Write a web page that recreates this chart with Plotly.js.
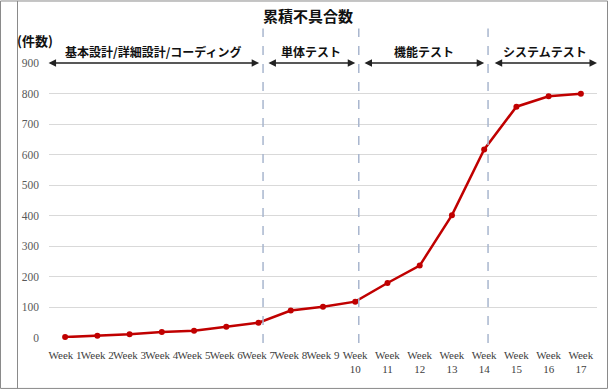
<!DOCTYPE html>
<html>
<head>
<meta charset="utf-8">
<script src="https://cdn.plot.ly/plotly-3.0.1.min.js"></script>
<style>
html,body{margin:0;padding:0;background:#fff;}
#chart{width:609px;height:391px;}
</style>
</head>
<body>
<div id="chart"></div>
<script>
const weeks = ["Week 1","Week 2","Week 3","Week 4","Week 5","Week 6","Week 7","Week 8","Week 9","Week 10","Week 11","Week 12","Week 13","Week 14","Week 15","Week 16","Week 17"];
const weekLabels = ["Week 1","Week 2","Week 3","Week 4","Week 5","Week 6","Week 7","Week 8","Week 9","Week<br>10","Week<br>11","Week<br>12","Week<br>13","Week<br>14","Week<br>15","Week<br>16","Week<br>17"];
const cumulativeDefects = [3, 7, 12, 20, 24, 37, 50, 90, 102, 119, 180, 237, 402, 617, 757, 791, 799];
const phaseNames = ["基本設計/詳細設計/コーディング", "単体テスト", "機能テスト", "システムテスト"];
const phaseStart = [-0.56, 6.26, 9.24, 13.28];
const phaseEnd = [6.02, 9.0, 13.0, 16.5];
const phaseBoundaries = [6.14, 9.11, 13.12];
const yTicks = [0, 100, 200, 300, 400, 500, 600, 700, 800, 900];

const L = 49, R = 12, T = 62.6, B = 53;
const W = 609, H = 391;
const pw = W - L - R, ph = H - T - B;
const px = v => (v - L) / pw;
const py = v => (H - B - v) / ph;

const shapes = [];
phaseBoundaries.forEach(b => {
  shapes.push({type:'line', xref:'x', yref:'paper', x0:b, x1:b, y0:py(343), y1:py(28),
    line:{color:'#A8B6CE', width:1.5, dash:'dash'}});
});
// frame
shapes.push({type:'rect', xref:'paper', yref:'paper', x0:px(0.5), x1:px(607.5), y0:py(388.5), y1:py(0.5),
  line:{color:'#8a8a8a', width:1}, fillcolor:'rgba(0,0,0,0)', layer:'below'});
shapes.push({type:'line', xref:'paper', yref:'paper', x0:px(17.5), x1:px(17.5), y0:py(388.5), y1:py(0.5),
  line:{color:'#8a8a8a', width:1}});

const annotations = [];
phaseNames.forEach((n, i) => {
  annotations.push({xref:'x', yref:'y', axref:'x', ayref:'y', x:phaseEnd[i], y:900, ax:phaseStart[i], ay:900,
    text:'', showarrow:true, arrowside:'end+start', arrowhead:2, arrowsize:1, arrowwidth:1.5, arrowcolor:'#222'});
  annotations.push({xref:'x', yref:'paper', x:(phaseStart[i]+phaseEnd[i])/2, y:py(51), yanchor:'middle', xanchor:'center',
    text:'<b>'+n+'</b>', showarrow:false, font:{family:'Noto Sans CJK JP', size:12, color:'#111'}});
});
annotations.push({xref:'paper', yref:'paper', x:px(15), y:py(40), xanchor:'left', yanchor:'middle',
  text:'<b>(件数)</b>', showarrow:false, font:{family:'Noto Sans CJK JP', size:13, color:'#111'}});

const trace = {
  type:'scatter', mode:'lines+markers', x:weeks, y:cumulativeDefects,
  line:{color:'#C00000', width:2.5}, marker:{color:'#C00000', size:6},
  cliponaxis:false, showlegend:false
};

const layout = {
  width:W, height:H,
  margin:{l:L, r:R, t:T, b:B},
  paper_bgcolor:'#fff', plot_bgcolor:'#fff',
  title:{text:'<b>累積不具合数</b>', x:308/W, xanchor:'center', y:1-17/H, yanchor:'middle',
    font:{family:'Noto Sans CJK JP', size:15, color:'#111'}},
  xaxis:{type:'category', categoryarray:weeks, tickvals:weeks, ticktext:weekLabels, range:[-0.5,16.5],
    showgrid:false, zeroline:false, showline:false, ticks:'', tickangle:0, ticklabelstandoff:9,
    tickfont:{family:'Liberation Serif', size:11, color:'#404040'}},
  yaxis:{range:[0,900], tickvals:yTicks, showgrid:true, gridcolor:'#D9D9D9', gridwidth:1,
    zeroline:false, showline:false, ticks:'', ticklabelstandoff:9,
    tickfont:{family:'Liberation Serif', size:11.5, color:'#595959'}},
  shapes:shapes, annotations:annotations
};

Plotly.newPlot('chart', [trace], layout, {staticPlot:true, displayModeBar:false});
</script>
</body>
</html>
